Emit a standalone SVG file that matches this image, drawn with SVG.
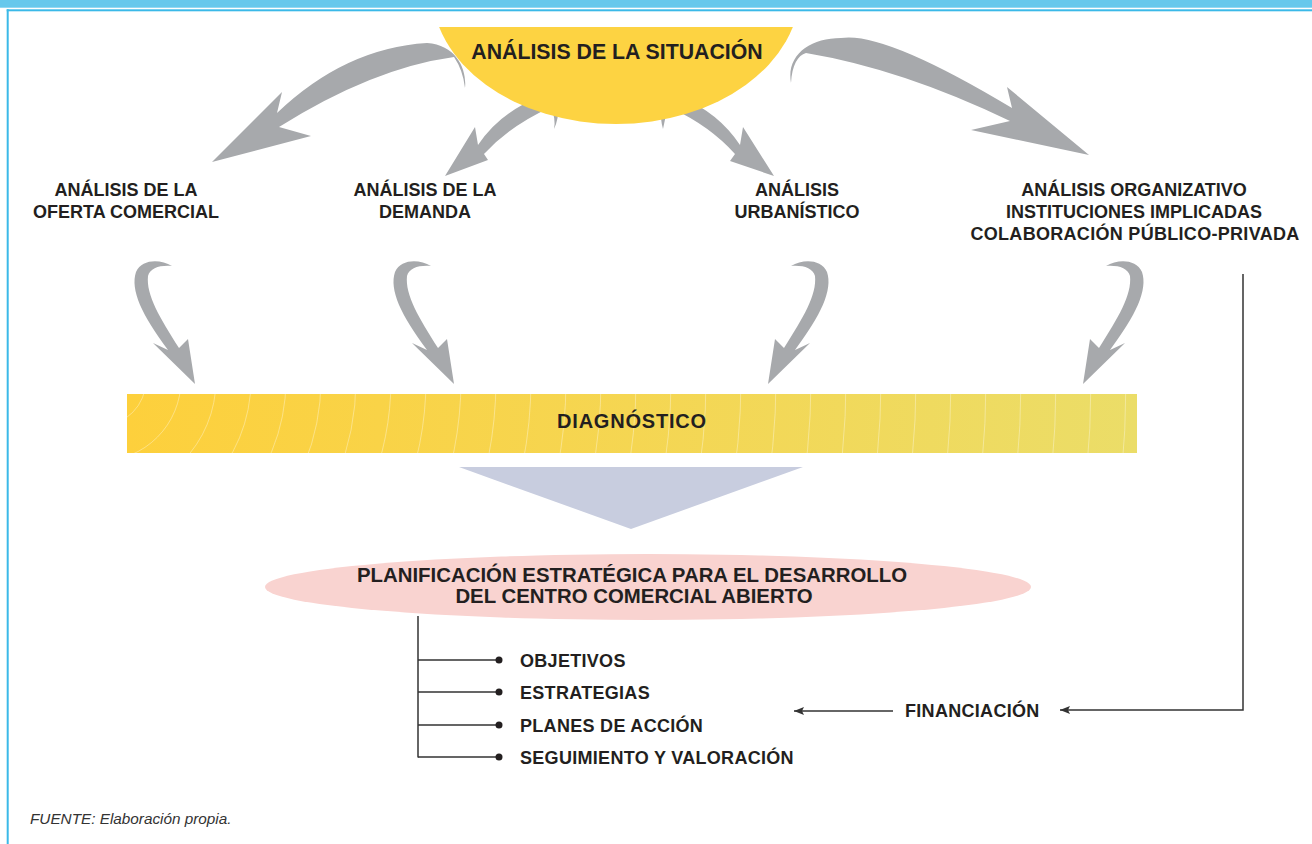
<svg xmlns="http://www.w3.org/2000/svg" width="1312" height="844" viewBox="0 0 1312 844">
<defs>
<style>
.t{font-family:"Liberation Sans",Arial,sans-serif;font-weight:bold;fill:#231f20}
.lab{font-size:18px;text-anchor:middle}
.li{font-size:18px;letter-spacing:0.3px}
.g{fill:#a7a9ac}
.ln{stroke:#333;stroke-width:1.5;fill:none}
.arc{fill:none;stroke:#fff;stroke-opacity:0.35;stroke-width:1}
</style>
<linearGradient id="bar" x1="0" y1="0" x2="1" y2="0">
<stop offset="0" stop-color="#fdd03c"/>
<stop offset="0.5" stop-color="#f5d652"/>
<stop offset="1" stop-color="#ebdd68"/>
</linearGradient>
<clipPath id="barclip"><rect x="127" y="394" width="1010" height="59"/></clipPath>
<clipPath id="sunclip"><rect x="400" y="27" width="440" height="120"/></clipPath>
<marker id="ah" viewBox="0 0 10 8" refX="10" refY="4" markerWidth="10" markerHeight="8" markerUnits="userSpaceOnUse" orient="auto">
<path d="M0,0 L10,4 L0,8 L2,4 Z" fill="#333"/>
</marker>
<path id="dn" d="M172,266 C160,259 142,259 136,272 C130,290 142,315 168,350 L153,343 L195,384 L188,339 L179,348 C160,318 146,295 148,276 C150,268 160,265 172,266 Z"/>
</defs>

<g id="frame">
<rect x="0" y="0" width="1312" height="7.7" fill="#66c8ec"/>
<rect x="6.7" y="9.3" width="1305.3" height="2" fill="#3bb9e8"/>
<rect x="6.7" y="9.3" width="2" height="834.7" fill="#3bb9e8"/>
</g>

<g id="connectors">
<path class="g" d="M445,176 L475,127 L478,145 Q500,112 540,97 L549,108 Q510,126 484,154 L488,160 Z"/>
<path class="g" d="M551,108 Q556,118 554,129 Q559,118 558,108 Z"/>
<path class="g" d="M774,176 L743,127 L740,145 Q718,112 680,97 L671,108 Q710,126 735,154 L730,161 Z"/>
<path class="g" d="M661,108 Q660,118 663,129 Q665,118 668,108 Z"/>
</g>

<g id="sun">
<ellipse cx="616" cy="-10" rx="184" ry="134" fill="#fdd342" clip-path="url(#sunclip)"/>
<text class="t" x="617" y="59" font-size="21.3" text-anchor="middle">ANÁLISIS DE LA SITUACIÓN</text>
</g>

<g id="connectors-top">
<path class="g" d="M277,113 L282,92 L212,162 L311,136 L279,127 Q373,68 454,57 Q463,70 465,88 C467,70 457,45 427,43 Q345,48 277,113 Z"/>
<path class="g" d="M1012,108 L1007,87 L1089,155 L971,130 L1010,121 Q902,69 806,53 C798,55 792,65 791,83 C786,55 810,38 841,38 Q884,31 1012,108 Z"/>
<use href="#dn" class="g"/>
<use href="#dn" class="g" transform="translate(259,0)"/>
<use href="#dn" class="g" transform="matrix(-1,0,0,1,963,0)"/>
<use href="#dn" class="g" transform="matrix(-1,0,0,1,1278,0)"/>
<path d="M459,467 L803,467 L631,529 Z" fill="#c8cddf"/>
<path class="ln" d="M418,616 V757.5"/>
<path class="ln" d="M418,660 H499 M418,692 H499 M418,725 H499 M418,757 H499"/>
<circle cx="499" cy="660" r="3.5" fill="#231f20"/>
<circle cx="499" cy="692" r="3.5" fill="#231f20"/>
<circle cx="499" cy="725" r="3.5" fill="#231f20"/>
<circle cx="499" cy="757" r="3.5" fill="#231f20"/>
<path class="ln" d="M1243,274 V710 H1060" marker-end="url(#ah)"/>
<path class="ln" d="M893,711 H794" marker-end="url(#ah)"/>
</g>

<g id="oferta">
<text class="t lab" x="126" y="196">ANÁLISIS DE LA</text>
<text class="t lab" x="126" y="218">OFERTA COMERCIAL</text>
</g>
<g id="demanda">
<text class="t lab" x="425" y="196">ANÁLISIS DE LA</text>
<text class="t lab" x="425" y="218">DEMANDA</text>
</g>
<g id="urbanistico">
<text class="t lab" x="797" y="196">ANÁLISIS</text>
<text class="t lab" x="797" y="218">URBANÍSTICO</text>
</g>
<g id="organizativo">
<text class="t lab" x="1134" y="196">ANÁLISIS ORGANIZATIVO</text>
<text class="t lab" x="1134" y="218">INSTITUCIONES IMPLICADAS</text>
<text class="t lab" x="1135" y="240" letter-spacing="0.3">COLABORACIÓN PÚBLICO-PRIVADA</text>
</g>

<g id="diagnostico">
<rect x="127" y="394" width="1010" height="59" fill="url(#bar)"/>
<g clip-path="url(#barclip)">
<circle class="arc" cx="100" cy="380" r="46"/><circle class="arc" cx="100" cy="380" r="81"/><circle class="arc" cx="100" cy="380" r="116"/><circle class="arc" cx="100" cy="380" r="151"/><circle class="arc" cx="100" cy="380" r="186"/><circle class="arc" cx="100" cy="380" r="221"/><circle class="arc" cx="100" cy="380" r="256"/><circle class="arc" cx="100" cy="380" r="291"/><circle class="arc" cx="100" cy="380" r="326"/><circle class="arc" cx="100" cy="380" r="361"/><circle class="arc" cx="100" cy="380" r="396"/><circle class="arc" cx="100" cy="380" r="431"/><circle class="arc" cx="100" cy="380" r="466"/><circle class="arc" cx="100" cy="380" r="501"/><circle class="arc" cx="100" cy="380" r="536"/><circle class="arc" cx="100" cy="380" r="571"/><circle class="arc" cx="100" cy="380" r="606"/><circle class="arc" cx="100" cy="380" r="641"/><circle class="arc" cx="100" cy="380" r="676"/><circle class="arc" cx="100" cy="380" r="711"/><circle class="arc" cx="100" cy="380" r="746"/><circle class="arc" cx="100" cy="380" r="781"/><circle class="arc" cx="100" cy="380" r="816"/><circle class="arc" cx="100" cy="380" r="851"/><circle class="arc" cx="100" cy="380" r="886"/><circle class="arc" cx="100" cy="380" r="921"/><circle class="arc" cx="100" cy="380" r="956"/><circle class="arc" cx="100" cy="380" r="991"/><circle class="arc" cx="100" cy="380" r="1026"/>
</g>
<text class="t" x="632" y="428" font-size="20" letter-spacing="0.8" text-anchor="middle">DIAGNÓSTICO</text>
</g>

<g id="planificacion">
<ellipse cx="648" cy="587" rx="383" ry="33" fill="#f9d3d0"/>
<text class="t" x="632" y="582" font-size="20.4" text-anchor="middle">PLANIFICACIÓN ESTRATÉGICA PARA EL DESARROLLO</text>
<text class="t" x="634" y="603" font-size="20.4" text-anchor="middle">DEL CENTRO COMERCIAL ABIERTO</text>
</g>

<g id="objetivos"><text class="t li" x="520" y="666.5">OBJETIVOS</text></g>
<g id="estrategias"><text class="t li" x="520" y="698.5">ESTRATEGIAS</text></g>
<g id="planes"><text class="t li" x="520" y="731.5">PLANES DE ACCIÓN</text></g>
<g id="seguimiento"><text class="t li" x="520" y="763.5">SEGUIMIENTO Y VALORACIÓN</text></g>
<g id="financiacion"><text class="t li" x="905" y="717">FINANCIACIÓN</text></g>

<text x="30" y="824" font-family="'Liberation Sans',Arial,sans-serif" font-style="italic" font-size="15.3" fill="#333">FUENTE: Elaboración propia.</text>
</svg>
